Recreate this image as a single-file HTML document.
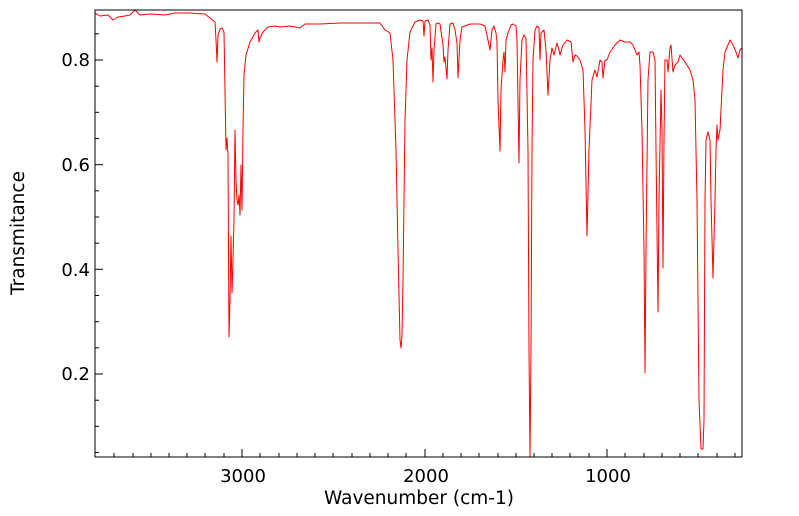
<!DOCTYPE html>
<html><head><meta charset="utf-8"><style>
html,body{margin:0;padding:0;background:#fff;}
svg{display:block;font-family:"DejaVu Sans","Liberation Sans",sans-serif;}
</style></head><body>
<svg width="799" height="516" viewBox="0 0 799 516" xmlns="http://www.w3.org/2000/svg">
<rect x="0" y="0" width="799" height="516" fill="#fff"/>
<g stroke="#000" stroke-width="1">
<line x1="242" y1="457" x2="242" y2="449"/><line x1="425" y1="457" x2="425" y2="449"/><line x1="607" y1="457" x2="607" y2="449"/>
<g>
<line x1="114" y1="457" x2="114" y2="453"/><line x1="133" y1="457" x2="133" y2="453"/><line x1="151" y1="457" x2="151" y2="453"/><line x1="169" y1="457" x2="169" y2="453"/><line x1="187" y1="457" x2="187" y2="453"/><line x1="205" y1="457" x2="205" y2="453"/><line x1="224" y1="457" x2="224" y2="453"/>
<line x1="260" y1="457" x2="260" y2="453"/><line x1="279" y1="457" x2="279" y2="453"/><line x1="297" y1="457" x2="297" y2="453"/><line x1="315" y1="457" x2="315" y2="453"/><line x1="333" y1="457" x2="333" y2="453"/><line x1="352" y1="457" x2="352" y2="453"/><line x1="370" y1="457" x2="370" y2="453"/><line x1="388" y1="457" x2="388" y2="453"/><line x1="406" y1="457" x2="406" y2="453"/>
<line x1="443" y1="457" x2="443" y2="453"/><line x1="461" y1="457" x2="461" y2="453"/><line x1="479" y1="457" x2="479" y2="453"/><line x1="498" y1="457" x2="498" y2="453"/><line x1="516" y1="457" x2="516" y2="453"/><line x1="534" y1="457" x2="534" y2="453"/><line x1="552" y1="457" x2="552" y2="453"/><line x1="570" y1="457" x2="570" y2="453"/><line x1="589" y1="457" x2="589" y2="453"/>
<line x1="625" y1="457" x2="625" y2="453"/><line x1="644" y1="457" x2="644" y2="453"/><line x1="662" y1="457" x2="662" y2="453"/><line x1="680" y1="457" x2="680" y2="453"/><line x1="698" y1="457" x2="698" y2="453"/><line x1="717" y1="457" x2="717" y2="453"/><line x1="735" y1="457" x2="735" y2="453"/>
</g>
<line x1="95" y1="60" x2="103" y2="60"/><line x1="95" y1="164.7" x2="103" y2="164.7"/><line x1="95" y1="269.3" x2="103" y2="269.3"/><line x1="95" y1="374" x2="103" y2="374"/>
<line x1="95" y1="33.8" x2="99" y2="33.8"/><line x1="95" y1="86.2" x2="99" y2="86.2"/><line x1="95" y1="112.3" x2="99" y2="112.3"/><line x1="95" y1="138.5" x2="99" y2="138.5"/><line x1="95" y1="190.8" x2="99" y2="190.8"/><line x1="95" y1="217" x2="99" y2="217"/><line x1="95" y1="243.2" x2="99" y2="243.2"/><line x1="95" y1="295.5" x2="99" y2="295.5"/><line x1="95" y1="321.7" x2="99" y2="321.7"/><line x1="95" y1="347.8" x2="99" y2="347.8"/><line x1="95" y1="400.2" x2="99" y2="400.2"/><line x1="95" y1="426.3" x2="99" y2="426.3"/><line x1="95" y1="452.5" x2="99" y2="452.5"/>
</g>
<polyline fill="none" stroke="#ff0000" stroke-width="1" stroke-linejoin="round" points="
95,13 100,16 108,15 113,20 118,17 125,16 130,15 135,10 140,15 150,14 165,15 175,13 190,13 205,14 210,18 215,22 216,40 217,62 218,35 220,29 222,28 224,32 225,90 226,150 227,138 228,155 229,337 230,300 231,236 232,293 233,260 234,220 235,130 236,180 237,200 238,205 239,195 240,215 241,165 242,210 243,130 244,75 246,55 250,42 255,33 258,30 259,42 260,38 263,32 268,27 275,26 280,27 290,26 300,28 305,24 320,24 340,23 360,23 380,23 385,30 390,33 393,60 396,150 398,250 400,340 401,348 402,335 403,280 405,120 407,60 410,32 415,22 420,20 423,21 424,36 425,21 428,20 430,25 431,60 432,48 433,82 434,50 436,24 438,23 440,24 443,45 444,62 445,57 447,79 448,50 450,24 453,23 455,30 457,43 458,78 460,40 462,27 465,26 470,24 480,24 485,26 488,40 490,50 492,30 494,26 496,33 497,42 498,100 500,151 501,90 503,60 504,52 505,72 506,40 508,33 511,25 513,24 516,26 517,40 519,163 520,80 522,40 524,35 526,38 528,150 529,350 530,457 531,350 532,150 533,60 535,30 537,26 539,28 540,60 541,33 544,30 546,50 548,95 550,60 552,48 554,55 557,43 559,50 560,55 563,45 567,40 571,42 573,62 575,55 577,56 580,60 583,70 585,130 587,236 589,150 592,80 595,70 597,77 600,60 602,62 603,78 605,60 607,60 610,52 615,45 620,40 625,42 630,42 633,45 637,55 639,52 640,65 642,130 644,250 645,373 646,250 648,80 650,52 653,52 655,60 656,150 658,312 659,200 661,90 662,130 663,268 664,140 665,60 667,60 668,72 670,48 671,45 673,72 675,65 678,62 680,55 685,62 690,70 693,80 695,100 697,200 699,400 701,449 703,449 704,420 705,200 706,140 708,132 710,140 711,200 713,278 715,200 716,150 717,125 718,140 720,130 721,110 723,70 725,52 730,40 733,45 736,52 738,58 740,50 742,48"/>
<rect x="95" y="10" width="647" height="447" fill="none" stroke="#000" stroke-width="1"/>
<g font-size="18" fill="#000" text-anchor="middle">
<text x="243" y="482">3000</text>
<text x="426" y="482">2000</text>
<text x="608" y="482">1000</text>
<text x="419" y="504" font-size="18.5">Wavenumber (cm-1)</text>
</g>
<g font-size="18" fill="#000" text-anchor="end">
<text x="90" y="66">0.8</text>
<text x="90" y="171">0.6</text>
<text x="90" y="276">0.4</text>
<text x="90" y="380">0.2</text>
</g>
<text x="24" y="233" font-size="18.5" text-anchor="middle" transform="rotate(-90 24 233)">Transmitance</text>
</svg>
</body></html>
